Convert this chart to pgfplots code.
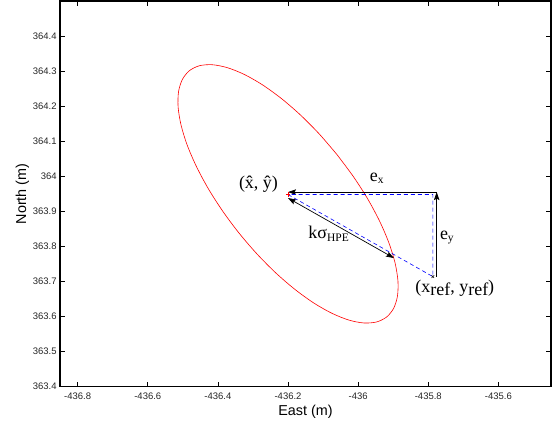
\documentclass[border=0pt]{standalone}
\usepackage{pgfplots}
\pgfplotsset{compat=1.18}
\usepackage{fontspec}
\setmainfont{Liberation Sans}
\newfontfamily\timesfont{Liberation Serif}
\usetikzlibrary{arrows.meta}

\newcommand{\annfont}{\timesfont\fontsize{18}{21}\selectfont}
\newcommand{\subfont}{\timesfont\fontsize{11.5}{13}\selectfont}

\begin{document}
\begin{tikzpicture}
\begin{axis}[
  x=350bp, y=350bp,
  xmin=-436.85, xmax=-435.45, ymin=363.4, ymax=364.5,
  xtick={-436.8,-436.6,-436.4,-436.2,-436,-435.8,-435.6},
  ytick={363.4,363.5,363.6,363.7,363.8,363.9,364,364.1,364.2,364.3,364.4},
  scaled ticks=false,
  tick align=inside,
  major tick length=5bp,
  tick style={black, line width=0.7pt},
  axis line style={black, line width=1.4pt},
  xlabel={East (m)}, ylabel={North (m)},
  label style={font=\fontsize{14.4}{16}\selectfont},
  xlabel style={at={([yshift=-29bp]axis description cs:0.5,0)}, anchor=base},
  ylabel style={at={([xshift=-34bp]axis description cs:0,0.5)}, anchor=base},
  ticklabel style={font=\fontsize{9.5}{11}\selectfont, text=black!85},
  xticklabel style={yshift=-3bp},
  /pgf/number format/assume math mode=true,
  /pgf/number format/.cd, fixed, precision=1,
  /pgfplots/.cd,
  clip=false,
]
% error ellipse
\addplot[red, line width=0.6pt, smooth] coordinates {
(-436.0603,364.0619) (-436.1113,364.1212) (-436.1650,364.1753) (-436.2197,364.2225)
(-436.2738,364.2615) (-436.3257,364.2910) (-436.3738,364.3101) (-436.4166,364.3183)
(-436.4528,364.3153) (-436.4813,364.3012) (-436.5013,364.2764) (-436.5122,364.2417)
(-436.5135,364.1982) (-436.5053,364.1471) (-436.4879,364.0900) (-436.4616,364.0287)
(-436.4275,363.9650) (-436.3864,363.9008) (-436.3397,363.8381) (-436.2887,363.7788)
(-436.2351,363.7247) (-436.1803,363.6775) (-436.1262,363.6385) (-436.0743,363.6091)
(-436.0262,363.5899) (-435.9834,363.5817) (-435.9472,363.5847) (-435.9187,363.5988)
(-435.8987,363.6236) (-435.8879,363.6583) (-435.8865,363.7018) (-435.8947,363.7529)
(-435.9122,363.8100) (-435.9384,363.8713) (-435.9725,363.9351) (-436.0136,363.9992)
(-436.0603,364.0619)
};
% black arrows
\addplot[black, line width=0.7pt, -{Stealth[length=8bp,width=5.5bp,inset=1.5bp]}] coordinates {(-435.776,363.714) (-435.776,363.955)};
\addplot[black, line width=0.7pt, -{Stealth[length=8bp,width=5.5bp,inset=1.5bp]}] coordinates {(-435.776,363.955) (-436.200,363.955)};
\addplot[black, line width=0.7pt, {Stealth[length=8bp,width=5.5bp,inset=1.5bp]}-{Stealth[length=8bp,width=5.5bp,inset=1.5bp]}] coordinates {(-436.200,363.938) (-435.898,363.767)};
% blue dashed triangle
\addplot[blue, line width=0.6pt, dash pattern=on 4bp off 3bp] coordinates {(-436.200,363.948) (-435.787,363.714) (-435.787,363.948) (-436.200,363.948)};
% markers
\addplot[red, only marks, mark=+, mark size=2.2bp, line width=0.5pt] coordinates {(-436.200,363.948)};
\addplot[black, only marks, mark=x, mark size=1.8bp, line width=0.5pt] coordinates {(-435.787,363.714)};
% annotations
\node[anchor=center, inner sep=0pt, font=\annfont] at (axis cs:-436.2843,363.977) {(\^{x}, \^{y})};
\node[anchor=center, inner sep=0pt, font=\annfont] at (axis cs:-436.0843,363.837) {kσ\raisebox{-0.35ex}{\subfont HPE}};
\node[anchor=center, inner sep=0pt, font=\annfont] at (axis cs:-435.7243,363.680) {(x\raisebox{-0.3ex}{ref}, y\raisebox{-0.3ex}{ref})};
\node[anchor=center, inner sep=0pt, font=\annfont] at (axis cs:-435.9471,363.994) {e\raisebox{-0.3ex}{\subfont x}};
\node[anchor=center, inner sep=0pt, font=\annfont] at (axis cs:-435.7470,363.826) {e\raisebox{-0.3ex}{\subfont y}};
\end{axis}
\pgfresetboundingbox
\path[use as bounding box] ([shift={(-60bp,-38bp)}]current axis.south west) rectangle ([shift={(3bp,1bp)}]current axis.north east);
\end{tikzpicture}
\end{document}
